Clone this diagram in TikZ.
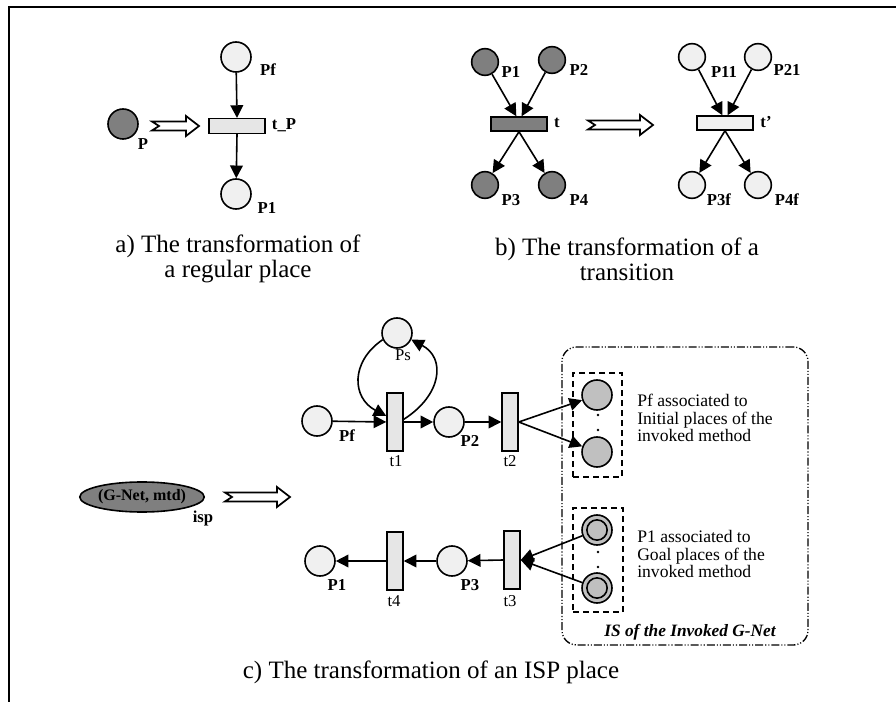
\documentclass[tikz,border=0pt]{standalone}
\usepackage{fontspec}
\setmainfont{Liberation Serif}
\usetikzlibrary{arrows.meta,calc,shapes.geometric}

\definecolor{darkfill}{HTML}{7F7F7F}
\definecolor{lightfill}{HTML}{F0F0F0}
\definecolor{midfill}{HTML}{C0C0C0}
\definecolor{transfill}{HTML}{E6E6E6}

% notched hollow "transforms to" arrow: x-start, x-end, y (all in px)
\newcommand\hollowarrow[3]{%
  \draw[line width=1.3pt, fill=white, line join=miter]
    (#1,#3-4.5) -- (#2-13,#3-4.5) -- (#2-13,#3-10) -- (#2,#3)
    -- (#2-13,#3+10) -- (#2-13,#3+4.5) -- (#1,#3+4.5) -- (#1+7,#3) -- cycle;}

\begin{document}
\begin{tikzpicture}[x=0.75pt, y=-0.75pt,
  place/.style={circle, draw, line width=1.2pt, minimum size=22.5pt, inner sep=0pt, fill=lightfill},
  smallplace/.style={place, minimum size=20pt},
  darkplace/.style={smallplace, fill=darkfill},
  lightplace/.style={smallplace, fill=lightfill},
  midplace/.style={place, fill=midfill},
  goalplace/.style={place, fill=midfill,
    path picture={\draw[line width=1.2pt] (path picture bounding box.center) circle (7.6pt);}},
  htrans/.style={rectangle, draw, line width=1.1pt, minimum width=42pt, minimum height=11pt, inner sep=0pt, fill=transfill},
  vtrans/.style={rectangle, draw, line width=1.1pt, minimum width=12pt, minimum height=43.5pt, inner sep=0pt, fill=transfill},
  lbl/.style={font=\fontsize{12.5}{14}\selectfont\bfseries, inner sep=0pt},
  tlbl/.style={font=\fontsize{12.5}{14}\selectfont, inner sep=0pt},
  caption/.style={font=\fontsize{18.75}{18.75}\selectfont, align=center, inner sep=0pt},
  note/.style={font=\fontsize{13.2}{13.1}\selectfont, align=left, anchor=west, inner sep=0pt},
  arc/.style={line width=1.2pt, -{Triangle[length=9.5pt,width=9.5pt]}},
  dot/.style={circle, fill=black, inner sep=0pt, minimum size=2pt},
  group/.style={draw, line width=1pt, dash pattern=on 4.5pt off 3pt},
  isbox/.style={draw, line width=1pt, rounded corners=11pt,
    dash pattern=on 6pt off 1.5pt on 0.8pt off 1.5pt on 0.8pt off 1.5pt}
]
\useasboundingbox (0,0) rectangle (896,702);

% page frame
\draw[line width=1.2pt] (9,702) -- (9,7) -- (896,7);

% ---------- a) regular place ----------
\node[darkplace, minimum size=22.5pt] (pa) at (123,124) {};
\node[lbl] (pa-l) at (143,144) {P};
\hollowarrow{152}{199}{126}
\node[htrans] (tp) at (237,126) {};
\node[lbl] (tp-l) at (284,125) {t\_P};
\node[place] (pfa) at (236,57) {};
\node[lbl] (pfa-l) at (268,70) {Pf};
\node[place] (p1a) at (236,194) {};
\node[lbl] (p1a-l) at (267,208) {P1};
\draw[arc] (pfa) -- (tp.north);
\draw[arc] (tp.south) -- (p1a);
\node[caption] (capa) at (238,259) {a) The transformation of\\a regular place};

% ---------- b) transition ----------
\node[darkplace] (b1) at (485,62) {};
\node[lbl] (b1-l) at (511,72) {P1};
\node[darkplace] (b2) at (552,60) {};
\node[lbl] (b2-l) at (579,70) {P2};
\node[htrans, fill=darkfill, minimum height=10.5pt] (tb) at (519,124) {};
\node[lbl] (tb-l) at (557,123) {t};
\node[darkplace] (b3) at (485,185) {};
\node[lbl] (b3-l) at (511,200) {P3};
\node[darkplace] (b4) at (552,185) {};
\node[lbl] (b4-l) at (579,200) {P4};
\draw[arc] (b1) -- ([xshift=-2pt]tb.north);
\draw[arc] (b2) -- ([xshift=2pt]tb.north);
\draw[arc] (tb.south) -- (b3);
\draw[arc] (tb.south) -- (b4);

\hollowarrow{588}{653}{125}

\node[lightplace] (c11) at (692,57) {};
\node[lbl] (c11-l) at (724,72) {P11};
\node[lightplace] (c21) at (758,57) {};
\node[lbl] (c21-l) at (787,70) {P21};
\node[htrans, fill=lightfill, minimum height=10.5pt] (tb2) at (725,123) {};
\node[lbl] (tb2-l) at (766,122) {t’};
\node[lightplace] (c3f) at (692,185) {};
\node[lbl] (c3f-l) at (719,200) {P3f};
\node[lightplace] (c4f) at (758,185) {};
\node[lbl] (c4f-l) at (787,200) {P4f};
\draw[arc] (c11) -- ([xshift=-2pt]tb2.north);
\draw[arc] (c21) -- ([xshift=2pt]tb2.north);
\draw[arc] (tb2.south) -- (c3f);
\draw[arc] (tb2.south) -- (c4f);
\node[caption] (capb) at (627,259) {b) The transformation of a\\transition};

% ---------- c) ISP place ----------
\node[ellipse, draw, line width=1.2pt, fill=darkfill, minimum width=93pt, minimum height=22.5pt, inner sep=0pt,
      font=\fontsize{12}{13}\selectfont\bfseries] (isp) at (142,497) {(G-Net, mtd)};
\node[lbl] (isp-l) at (203,518) {isp};
\hollowarrow{225}{290}{497}

% upper net
\node[place] (ps) at (397,333) {};
\node[tlbl] (ps-l) at (403,355) {Ps};
\node[place] (pfc) at (317,421) {};
\node[lbl] (pfc-l) at (347,436) {Pf};
\node[vtrans] (t1) at (395,422) {};
\node[tlbl] (t1-l) at (396,461) {t1};
\node[place] (p2c) at (449,422) {};
\node[lbl] (p2c-l) at (470,441) {P2};
\node[vtrans] (t2) at (510,422) {};
\node[tlbl] (t2-l) at (510,461) {t2};
\draw[arc] (pfc) -- (t1.west);
\draw[arc] (t1.east) -- (p2c);
\draw[arc] (p2c) -- (t2.west);
\draw[arc] (ps.205) .. controls (350,362) and (352,398) .. ([yshift=4.5pt]t1.west);
\draw[arc] ([yshift=2pt]t1.east) .. controls (442,395) and (446,358) .. (ps.335);

% invoked net: initial places
\node[midplace] (i1) at (597,395) {};
\node[midplace] (i2) at (597,452) {};
\node[dot] (i-d1) at (598,415) {};
\node[dot] (i-d2) at (598,430) {};
\node[group, minimum width=36.75pt, minimum height=78pt, inner sep=0pt] (gi) at (597.5,425) {};
\draw[arc] (t2.east) -- (i1);
\draw[arc] (t2.east) -- (i2);
\node[note] (ni) at (637,418) {Pf associated to\\Initial places of the\\invoked method};

% invoked net: goal places
\node[goalplace] (g1) at (597,530) {};
\node[goalplace] (g2) at (597,588) {};
\node[dot] (g-d1) at (598,552) {};
\node[dot] (g-d2) at (598,567) {};
\node[group, minimum width=37.5pt, minimum height=78pt, inner sep=0pt] (gg) at (598,560) {};
\node[note] (ng) at (637,554) {P1 associated to\\Goal places of the\\invoked method};

% lower net
\node[place] (p1c) at (320,561) {};
\node[lbl] (p1c-l) at (337,585) {P1};
\node[vtrans] (t4) at (395,561) {};
\node[tlbl] (t4-l) at (394,601) {t4};
\node[place] (p3c) at (452,561) {};
\node[lbl] (p3c-l) at (470,585) {P3};
\node[vtrans] (t3) at (512,560) {};
\node[tlbl] (t3-l) at (510,601) {t3};
\draw[arc] (g1) -- (t3.east);
\draw[arc] (g2) -- (t3.east);
\draw[arc] (t3.west) -- (p3c);
\draw[arc] (p3c) -- (t4.east);
\draw[arc] (t4.west) -- (p1c);

% interface box of the invoked G-Net
\node[isbox, minimum width=184.5pt, minimum height=223.5pt, inner sep=0pt] (isb) at (685,496) {};
\node[font=\fontsize{13}{15}\selectfont\bfseries\itshape, inner sep=0pt] (isb-l) at (690,632) {IS of the Invoked G-Net};

\node[caption] (capc) at (431,672) {c) The transformation of an ISP place};
\end{tikzpicture}
\end{document}
